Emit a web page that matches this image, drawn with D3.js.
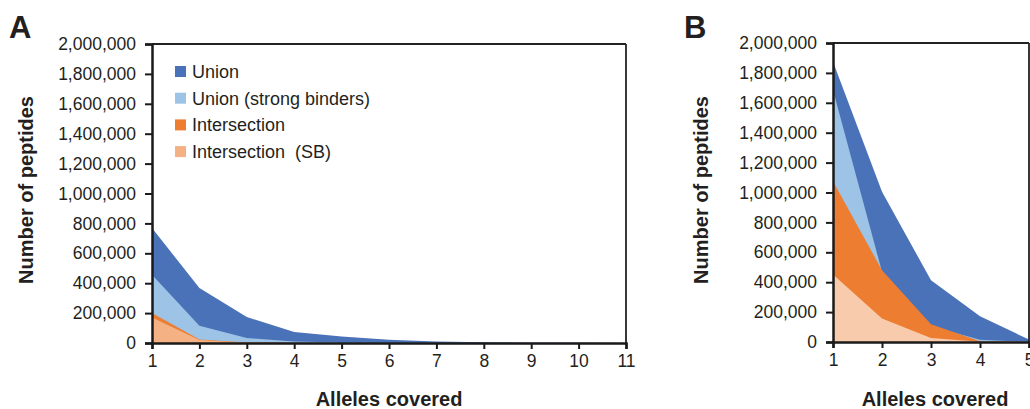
<!DOCTYPE html>
<html>
<head>
<meta charset="utf-8">
<script src="https://cdnjs.cloudflare.com/ajax/libs/d3/7.8.5/d3.min.js"></script>
<style>
  body { margin: 0; background: #fff; }
  svg text { font-family: "Liberation Sans", Arial, sans-serif; fill: #231f20; }
  .tick text { font-size: 17.5px; }
  .ttl { font-size: 20px; font-weight: bold; }
  .pnl { font-size: 31px; font-weight: bold; }
  .leg { font-size: 18px; white-space: pre; }
</style>
</head>
<body>
<svg id="chart" width="1030" height="409"></svg>
<script>
// series names and colours
var seriesNames = ["Union", "Union (strong binders)", "Intersection", "Intersection  (SB)"];
var colorsA = ["#4a72b8", "#9dc3e6", "#ed7d31", "#f4b183"];
var colorsB = ["#4a72b8", "#9dc3e6", "#ed7d31", "#f8cbad"];

// panel A, alleles 1..11
var allelesA = [1, 2, 3, 4, 5, 6, 7, 8, 9, 10, 11];
var unionA        = [769000, 368000, 174000, 74000, 44000, 22000, 10000, 5000, 2000, 1000, 500];
var unionSbA      = [457000, 116000, 33000, 10000, 4000, 2000, 1000, 500, 200, 100, 50];
var interA        = [200000, 24000, 4000, 1000, 300, 100, 50, 20, 10, 5, 0];
var interSbA      = [171000, 20000, 2500, 500, 150, 50, 20, 10, 5, 2, 0];

// panel B, alleles 1..5
var allelesB = [1, 2, 3, 4, 5];
var unionB        = [1875000, 1005000, 413000, 172000, 16000];
var unionSbB      = [1686000, 470000, 105000, 15000, 1000];
var interB        = [1076000, 480000, 118000, 5000, 300];
var interSbB      = [451000, 157000, 27000, 1500, 100];

var yTicks = d3.range(0, 2000001, 200000);

var svg = d3.select("#chart");

function panel(opt) {
  var x = d3.scaleLinear().domain(opt.xDomain).range([opt.left, opt.right]);
  var y = d3.scaleLinear().domain([0, 2000000]).range([opt.bottom, opt.top]);
  var g = svg.append("g");

  var area = d3.area()
    .x(function(d) { return x(d[0]); })
    .y0(y(0))
    .y1(function(d) { return y(d[1]); });

  opt.series.forEach(function(vals, i) {
    g.append("path")
      .datum(opt.alleles.map(function(a, j) { return [a, vals[j]]; }))
      .attr("fill", opt.colors[i])
      .attr("d", area);
  });

  // frame top/right
  g.append("line").attr("x1", opt.left).attr("x2", opt.right)
    .attr("y1", opt.top).attr("y2", opt.top)
    .attr("stroke", "#222").attr("stroke-width", 1.8);
  g.append("line").attr("x1", opt.right).attr("x2", opt.right)
    .attr("y1", opt.top).attr("y2", opt.bottom)
    .attr("stroke", "#222").attr("stroke-width", 1.8);

  var ya = g.append("g").attr("transform", "translate(" + opt.left + ",0)")
    .call(d3.axisLeft(y).tickValues(yTicks).tickFormat(d3.format(",")).tickSize(7).tickPadding(9));
  var xa = g.append("g").attr("transform", "translate(0," + opt.bottom + ")")
    .call(d3.axisBottom(x).tickValues(opt.alleles).tickFormat(d3.format("d")).tickSize(6).tickPadding(6));
  [ya, xa].forEach(function(a) {
    a.select(".domain").attr("stroke", "#1a1a1a").attr("stroke-width", 2.5);
    a.selectAll(".tick line").attr("stroke", "#1a1a1a").attr("stroke-width", 2);
    a.selectAll(".tick text").attr("fill", "#231f20");
  });

  g.append("text").attr("class", "pnl").attr("x", opt.labelX).attr("y", 38).text(opt.label);
  g.append("text").attr("class", "ttl").attr("text-anchor", "middle")
    .attr("transform", "translate(" + opt.yTitleX + ",190) rotate(-90)")
    .text("Number of peptides");
  g.append("text").attr("class", "ttl").attr("text-anchor", "middle")
    .attr("x", opt.xTitleX).attr("y", 406).text("Alleles covered");
  return g;
}

panel({
  label: "A", labelX: 9, left: 152, right: 626, top: 44, bottom: 343,
  xDomain: [1, 11], alleles: allelesA, colors: colorsA,
  series: [unionA, unionSbA, interA, interSbA],
  yTitleX: 33, xTitleX: 389
});

panel({
  label: "B", labelX: 684, left: 833, right: 1029, top: 43, bottom: 342,
  xDomain: [1, 5], alleles: allelesB, colors: colorsB,
  series: [unionB, unionSbB, interB, interSbB],
  yTitleX: 708, xTitleX: 935
});

// legend in panel A
var leg = svg.append("g").attr("transform", "translate(175,71)");
seriesNames.forEach(function(n, i) {
  var r = leg.append("g").attr("transform", "translate(0," + (i * 26.7) + ")");
  r.append("rect").attr("x", 0).attr("y", -5).attr("width", 11).attr("height", 11).attr("fill", colorsA[i]);
  r.append("text").attr("class", "leg").attr("x", 17).attr("y", 7).text(n);
});
</script>
</body>
</html>
